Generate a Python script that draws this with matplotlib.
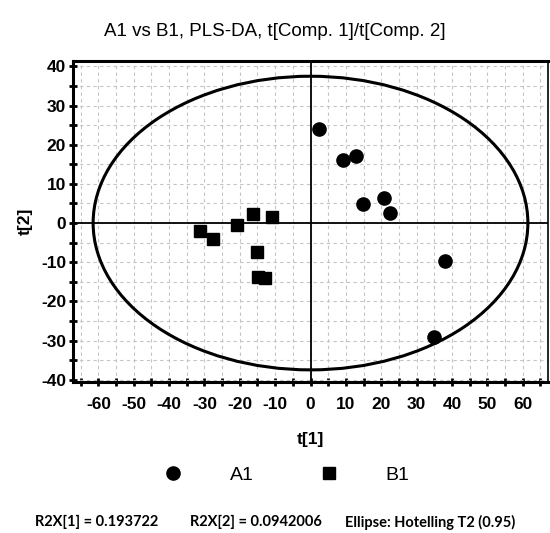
import numpy as np
import matplotlib.pyplot as plt
from matplotlib.patches import Ellipse

plt.rcParams['axes.unicode_minus'] = False

# scores t[1], t[2]
a1_t1 = [2.5, 9.2, 13.0, 14.8, 20.8, 22.5, 38.0, 34.8]
a1_t2 = [24.0, 16.1, 17.2, 4.9, 6.3, 2.6, -9.8, -29.0]
b1_t1 = [-31.2, -27.6, -20.8, -16.3, -11.0, -15.2, -14.9, -13.0]
b1_t2 = [-2.1, -4.0, -0.6, 2.3, 1.6, -7.3, -13.8, -14.1]

# Hotelling T2 (0.95) ellipse semi axes
ell_a = 61.5
ell_b = 37.5

major_ticks = [-60, -50, -40, -30, -20, -10, 0, 10, 20, 30, 40, 50, 60]
y_ticks = [-40, -30, -20, -10, 0, 10, 20, 30, 40]

fig = plt.figure(figsize=(5.5, 5.33), dpi=100)
ax = fig.add_axes([0.1327, 0.2833, 0.8637, 0.6023])

ax.set_xlim(-67.2, 67.2)
ax.set_ylim(-40.6, 41.4)

ax.set_xticks(major_ticks)
ax.set_yticks(y_ticks)
ax.set_xticks(np.arange(-65, 66, 5), minor=True)
ax.set_yticks(np.arange(-40, 41, 5), minor=True)
ax.grid(True, which='both', color='#c4c4c4', linestyle=(0, (3, 3)), linewidth=0.8)
ax.set_axisbelow(True)

ax.tick_params(which='both', direction='inout', length=6, width=2, top=False, right=False)
for lab in ax.get_xticklabels() + ax.get_yticklabels():
    lab.set_fontfamily('Liberation Sans')
    lab.set_fontweight('bold')
    lab.set_fontsize(12.5)
ax.tick_params(axis='x', pad=8)
ax.tick_params(axis='y', pad=2)

for s in ax.spines.values():
    s.set_linewidth(2.2)
ax.spines['right'].set_linewidth(1.2)

ax.axhline(0, color='black', linewidth=1.3, zorder=2)
ax.axvline(0, color='black', linewidth=1.3, zorder=2)

ax.add_patch(Ellipse((0, 0), 2 * ell_a, 2 * ell_b, fill=False, edgecolor='black', linewidth=2.2, zorder=3))

ax.plot(a1_t1, a1_t2, 'o', color='black', markersize=9.5, linestyle='none', label='A1', zorder=4)
ax.plot(b1_t1, b1_t2, 's', color='black', markersize=8.5, linestyle='none', label='B1', zorder=4)

ax.set_xlabel('t[1]', fontfamily='Liberation Sans', fontweight='bold', fontsize=12.5, labelpad=14)
ax.set_ylabel('t[2]', fontfamily='Liberation Sans', fontweight='bold', fontsize=12.5, labelpad=6)

fig.text(0.5, 0.94, 'A1 vs B1, PLS-DA, t[Comp. 1]/t[Comp. 2]', ha='center', va='center',
         fontfamily='Liberation Sans', fontsize=13.5)

handles, labels = ax.get_legend_handles_labels()
fig.legend(handles, labels, loc='center', bbox_to_anchor=(0.512, 0.109), ncol=2, frameon=False,
           handlelength=2.0, handletextpad=1.9, columnspacing=2.9,
           prop={'family': 'Liberation Sans', 'size': 14})

foot = {'family': 'Lato', 'weight': 'bold', 'size': 10.5}
fig.text(35 / 550, 0.02, 'R2X[1] = 0.193722', ha='left', va='center', fontdict=foot)
fig.text(190 / 550, 0.02, 'R2X[2] = 0.0942006', ha='left', va='center', fontdict=foot)
fig.text(345 / 550, 0.02, 'Ellipse: Hotelling T2 (0.95)', ha='left', va='center', fontdict=foot)

fig.savefig('out.png', dpi=100)
